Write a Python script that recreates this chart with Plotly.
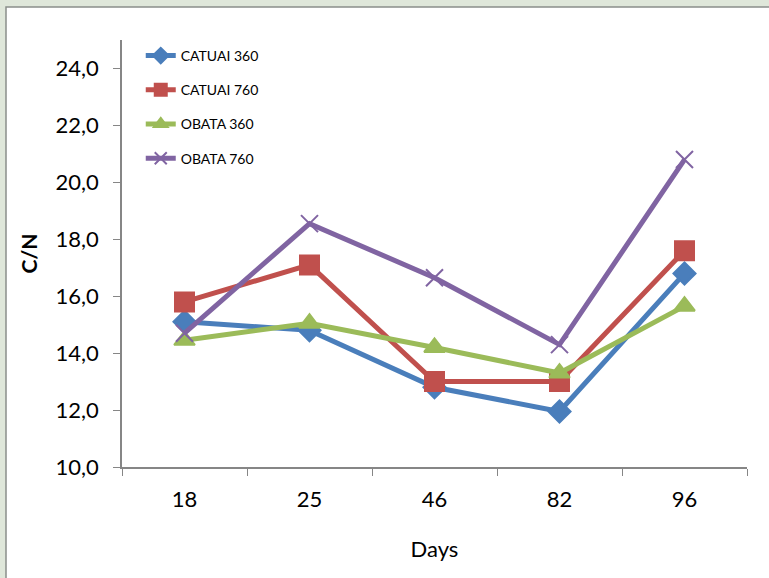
import plotly.graph_objects as go

days = ["18", "25", "46", "82", "96"]
catuai_360 = [15.1, 14.8, 12.8, 11.95, 16.8]
catuai_760 = [15.8, 17.1, 13.0, 13.0, 17.6]
obata_360 = [14.45, 15.05, 14.2, 13.3, 15.65]
obata_760 = [14.7, 18.55, 16.65, 14.3, 20.8]
y_ticks = [10, 12, 14, 16, 18, 20, 22, 24]

series = [
    ("CATUAI 360", catuai_360, "#4A7EBB", "diamond", 17),
    ("CATUAI 760", catuai_760, "#C0504D", "square", 19),
    ("OBATA 360", obata_360, "#9BBB59", "triangle-up", 18),
    ("OBATA 760", obata_760, "#8064A2", "x-thin", 17),
]

fig = go.Figure()
for i, (name, vals, col, sym, sz) in enumerate(series):
    fig.add_trace(go.Scatter(
        x=days, y=vals, name=name, mode="lines+markers",
        line=dict(color=col, width=5),
        marker=dict(symbol=sym, size=sz, color=col, line=dict(color=col, width=2)),
        legendgroup=f"g{i}",
    ))

fig.add_shape(type="rect", xref="paper", yref="paper",
              x0=(6 - 122) / 625, x1=1.2, y0=-0.4, y1=(467 - 7) / 427,
              fillcolor="white", line=dict(color="#8a8f8a", width=1.5), layer="below")

fig.update_layout(
    width=769, height=578,
    margin=dict(l=122, r=22, t=40, b=111),
    paper_bgcolor="#dfe7da",
    plot_bgcolor="white",
    separators=",.",
    font=dict(family="Lato, Open Sans, sans-serif", color="black"),
    showlegend=True,
    legend=dict(x=0.03, y=1.0, xanchor="left", yanchor="top",
                bgcolor="rgba(0,0,0,0)", font=dict(size=14),
                tracegroupgap=13, itemsizing="constant"),
    xaxis=dict(type="category", range=[-0.5, 4.5], tickson="boundaries",
               ticks="outside", ticklen=7, tickcolor="#868686",
               showline=True, linecolor="#868686", linewidth=1.5,
               showgrid=False, tickfont=dict(size=22), ticklabelstandoff=12,
               title=dict(text="Days", font=dict(size=22), standoff=30)),
    yaxis=dict(range=[10, 25], tickvals=y_ticks, tickformat=".1f",
               ticks="outside", ticklen=7, tickcolor="#868686",
               showline=True, linecolor="#868686", linewidth=1.5,
               showgrid=False, zeroline=False, tickfont=dict(size=22),
               ticklabelstandoff=10,
               title=dict(text="<b>C/N</b>", font=dict(size=21), standoff=12)),
)

fig.write_html("out.html")
